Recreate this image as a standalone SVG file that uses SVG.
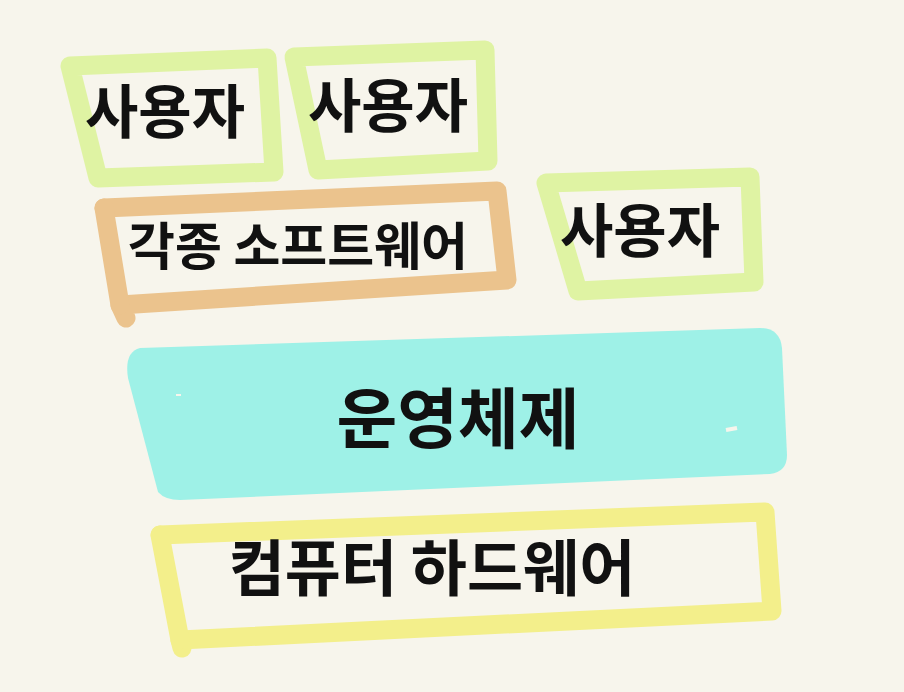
<svg xmlns="http://www.w3.org/2000/svg" width="904" height="692" viewBox="0 0 904 692">
  <style>
    .box { fill: none; stroke-width: 19; stroke-linejoin: round; stroke-linecap: round; }
    .user { stroke: #dff3a3; }
    .sw { stroke: #ebc38d; }
    .hw { stroke: #f3ef8b; }
    .os { fill: #9ef1e7; }
    .t { font-family: "Noto Sans CJK KR", "Noto Sans", sans-serif; font-weight: 700; fill: #111; text-anchor: middle; dominant-baseline: central; }
  </style>
  <rect width="904" height="692" fill="#f7f5ec"/>
  <g id="user1">
    <path class="box user" d="M70,66 L267,58 L274,172 L98,178 Z"/>
    <text class="t" x="165" y="108" font-size="58">사용자</text>
  </g>
  <g id="user2">
    <path class="box user" d="M294,57 L485,50 L488,161 L318,170 Z"/>
    <text class="t" x="388" y="102" font-size="58">사용자</text>
  </g>
  <g id="software">
    <path class="box sw" d="M104,208 L497,191 L507,280 L120,305 L126,318"/>
    <path class="box sw" d="M104,208 L120,305"/>
    <text class="t" x="298" y="243" font-size="51">각종 소프트웨어</text>
  </g>
  <g id="user3">
    <path class="box user" d="M546,183 L750,177 L754,282 L578,291 Z"/>
    <text class="t" x="640" y="227" font-size="58">사용자</text>
  </g>
  <g id="os">
    <path class="os" d="M140,348 L760,328 Q780,328 782,348 L787,455 Q787,472 770,474 L180,500 Q165,500 158,492 L128,378 Q124,352 140,348 Z"/>
    <path d="M176,395 L181,395" stroke="#f7f5ec" stroke-width="2"/>
    <path d="M726,430 L737,428" stroke="#f7f5ec" stroke-width="4"/>
    <text class="t" x="458" y="414" font-size="66">운영체제</text>
  </g>
  <g id="hardware">
    <path class="box hw" d="M160,535 L765,512 L772,611 L180,640 L182,648"/>
    <path class="box hw" d="M160,535 L180,640"/>
    <text class="t" x="432" y="564" font-size="61">컴퓨터 하드웨어</text>
  </g>
  <g id="connectors"/>
</svg>
